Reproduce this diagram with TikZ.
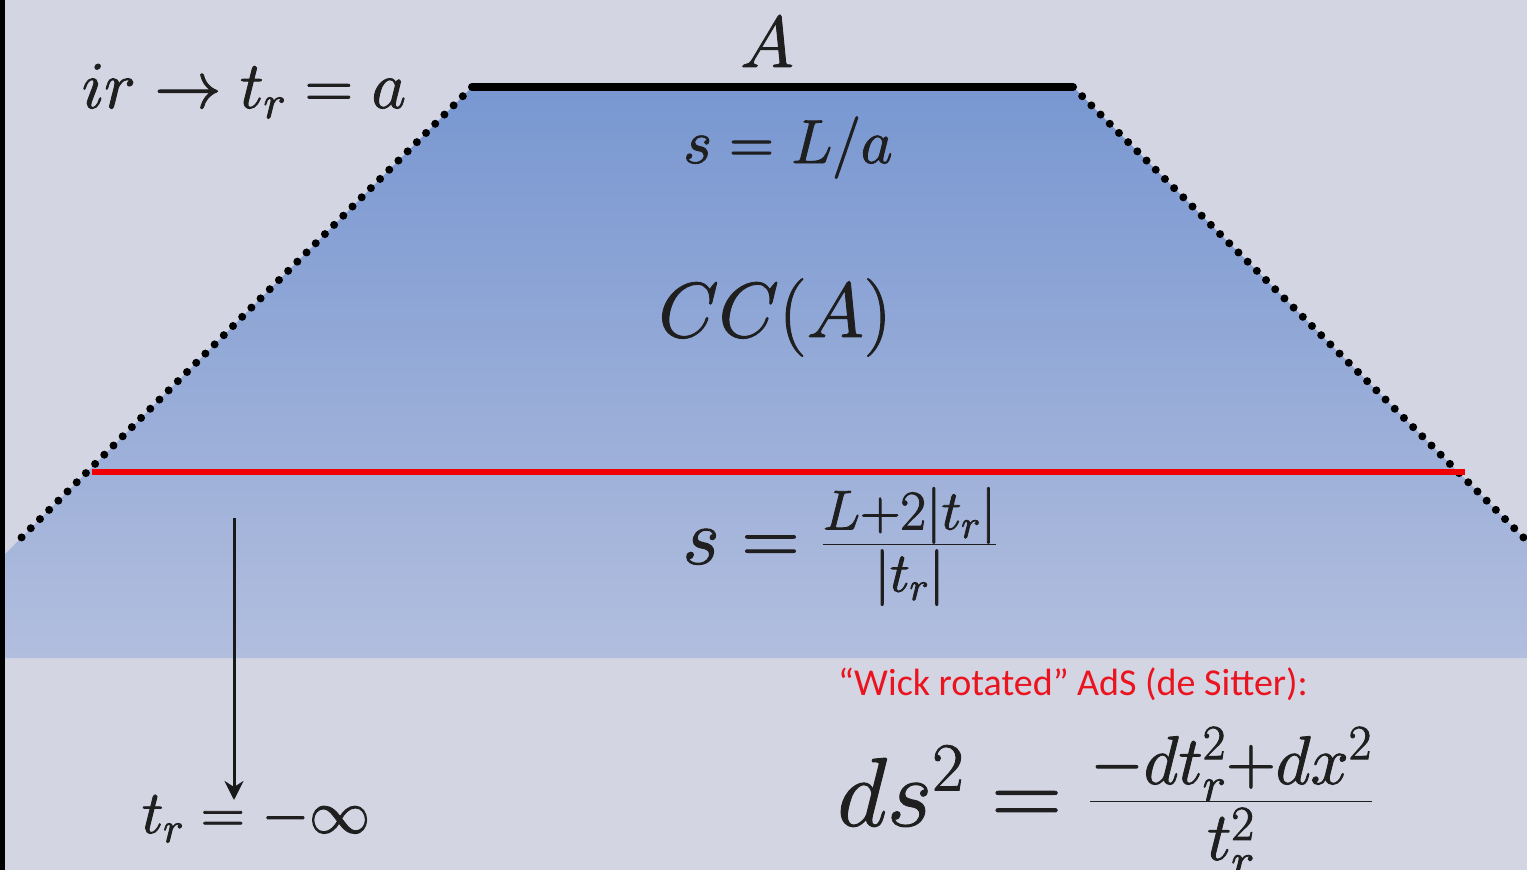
\documentclass[tikz,border=0pt]{standalone}
\usepackage{fix-cm}
\usepackage{fontspec}
\newfontfamily\carlito{Carlito}
\usetikzlibrary{arrows.meta}
\definecolor{bgc}{RGB}{211,213,227}
\definecolor{bluetop}{RGB}{120,151,209}
\definecolor{bluebot}{RGB}{178,190,222}
\definecolor{redline}{RGB}{240,0,0}
\definecolor{redtext}{RGB}{235,20,30}
\newcommand{\boldon}{\special{pdf:literal direct 2 Tr 0.9 w}}
\newcommand{\boldoff}{\special{pdf:literal direct 0 Tr}}
\tikzset{
  dotline/.style={line width=8pt, line cap=round, dash pattern=on 0pt off 13pt, black},
  mtext/.style={anchor=base, inner sep=0pt, text=black!88},
}
\newcommand{\fs}[1]{\fontsize{#1}{#1}\selectfont}
\newcommand{\mt}[2]{\fs{#1}\boldon$#2$\boldoff}
\begin{document}
\begin{tikzpicture}[x=1pt,y=-1pt]
\useasboundingbox (0,0) rectangle (1527,870);
\fill[bgc] (0,0) rectangle (1527,870);
\fill[black] (0,0) rectangle (5,870);
% blue region
\shade[top color=bluetop, bottom color=bluebot]
  (472,87) -- (1073,87) -- (1527,541) -- (1527,658) -- (5,658) -- (5,554) -- cycle;
% corners
\coordinate (TL) at (472,87);
\coordinate (TR) at (1073,87);
\coordinate (BL) at (18,541);
\coordinate (BR) at (1527,541);
\draw[dotline] (TL) -- (BL);
\draw[dotline] (TR) -- (BR);
\draw[line width=8pt, black] (TL) -- (TR);
% red line
\coordinate (RL) at (92,472);
\coordinate (RR) at (1465,472);
\draw[line width=5.5pt, redline] (RL) -- (RR);
% arrow
\coordinate (AS) at (234,518);
\coordinate (AE) at (234,800);
\draw[line width=3pt, black!90, -{Stealth[length=19pt,width=19pt,inset=6pt]}] (AS) -- (AE);
% texts
\node[mtext] (irt) at (244,108) {\mt{67}{ir\rightarrow t_r=a}};
\node[mtext] (A) at (767,67) {\mt{73}{A}};
\node[mtext] (sLa) at (788,163) {\mt{62}{s=L/a}};
\node[mtext] (CCA) at (775,337) {\mt{78}{CC(A)}};
\node[mtext] (sfrac) at (840,564) {\mt{80}{s=\frac{L+2|t_r|}{|t_r|}}};
\node[mtext] (tinf) at (256,833) {\mt{61}{t_r=-\infty}};
\node[mtext] (ds) at (1105,826) {\mt{98}{ds^2=\frac{-dt_r^2+dx^2}{t_r^2}}};
\node[anchor=base west, inner sep=0pt, text=redtext] (wick) at (838,695) {\carlito\fs{38}“Wick rotated” AdS (de Sitter):};
\end{tikzpicture}
\end{document}
